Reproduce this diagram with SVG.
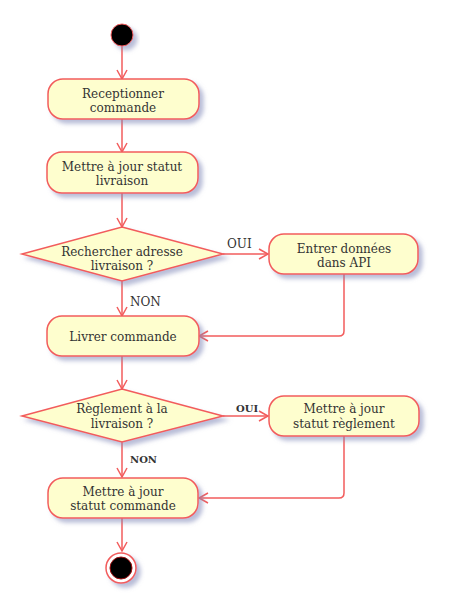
<svg xmlns="http://www.w3.org/2000/svg" width="451" height="615" viewBox="0 0 451 615">
<defs>
<filter id="sh" x="-20%" y="-20%" width="150%" height="160%">
<feGaussianBlur in="SourceAlpha" stdDeviation="2"/>
<feOffset dx="4" dy="4" result="b"/>
<feFlood flood-color="#8088B8" flood-opacity="0.55"/>
<feComposite in2="b" operator="in"/>
<feMerge><feMergeNode/><feMergeNode in="SourceGraphic"/></feMerge>
</filter>
<marker id="ar" markerWidth="12" markerHeight="12" refX="10" refY="6" orient="auto" markerUnits="userSpaceOnUse">
<path d="M1,1 L10,6 L1,11" fill="none" stroke="#F25C5C" stroke-width="1.5"/>
</marker>
<style>
.n{fill:#FEFECE;stroke:#F25C5C;stroke-width:1.5;filter:url(#sh)}
.t{font-family:"DejaVu Serif",serif;font-size:12px;fill:#333;text-anchor:middle}
.l{font-family:"DejaVu Serif",serif;font-size:12px;fill:#333}
.ls{font-family:"DejaVu Serif",serif;font-size:10px;font-weight:bold;fill:#333}
.c{fill:none;stroke:#F25C5C;stroke-width:1.5;marker-end:url(#ar)}
</style>
</defs>
<rect width="451" height="615" fill="#fff"/>
<g id="connectors">
<path class="c" d="M122,46 V79"/>
<path class="c" d="M122,119 V152"/>
<path class="c" d="M122,193 V227"/>
<path class="c" d="M223,254 H268"/>
<path class="c" d="M344,274 V331 Q344,336 339,336 H199"/>
<path class="c" d="M122,281 V316"/>
<path class="c" d="M122,356 V389"/>
<path class="c" d="M223,416 H268"/>
<path class="c" d="M344,436 V493 Q344,498 339,498 H199"/>
<path class="c" d="M122,442 V477"/>
<path class="c" d="M122,518 V551"/>
<text class="l" x="227" y="248">OUI</text>
<text class="l" x="130" y="306">NON</text>
<text class="ls" x="236" y="412">OUI</text>
<text class="ls" x="130" y="463">NON</text>
</g>
<g id="start"><circle cx="122" cy="35" r="11" fill="#000" stroke="#F25C5C" stroke-width="1" filter="url(#sh)"/></g>
<g id="receptionner">
<rect class="n" x="48" y="79" width="151" height="40" rx="15"/>
<text class="t" x="123" y="98">Receptionner</text>
<text class="t" x="123" y="112">commande</text>
</g>
<g id="maj_livraison">
<rect class="n" x="47" y="152" width="151" height="41" rx="15"/>
<text class="t" x="122" y="171">Mettre à jour statut</text>
<text class="t" x="122" y="185">livraison</text>
</g>
<g id="d1">
<polygon class="n" points="122,227 223,254 122,281 22,254"/>
<text class="t" x="122" y="256">Rechercher adresse</text>
<text class="t" x="122" y="270">livraison ?</text>
</g>
<g id="entrer_api">
<rect class="n" x="269" y="234" width="149" height="40" rx="15"/>
<text class="t" x="344" y="253">Entrer données</text>
<text class="t" x="344" y="267">dans API</text>
</g>
<g id="livrer">
<rect class="n" x="47" y="316" width="152" height="40" rx="15"/>
<text class="t" x="123" y="341">Livrer commande</text>
</g>
<g id="d2">
<polygon class="n" points="122,389 223,416 122,442 22,416"/>
<text class="t" x="122" y="413">Règlement à la</text>
<text class="t" x="122" y="428">livraison ?</text>
</g>
<g id="maj_reglement">
<rect class="n" x="269" y="396" width="150" height="40" rx="15"/>
<text class="t" x="344" y="413">Mettre à jour</text>
<text class="t" x="344" y="428">statut règlement</text>
</g>
<g id="maj_commande">
<rect class="n" x="48" y="478" width="150" height="40" rx="15"/>
<text class="t" x="123" y="496">Mettre à jour</text>
<text class="t" x="123" y="510">statut commande</text>
</g>
<g id="end">
<circle cx="121" cy="568" r="15" fill="#fff" stroke="#F25C5C" stroke-width="1.5" filter="url(#sh)"/>
<circle cx="121" cy="568" r="11" fill="#000" stroke="#A01010" stroke-width="1"/>
</g>
</svg>
